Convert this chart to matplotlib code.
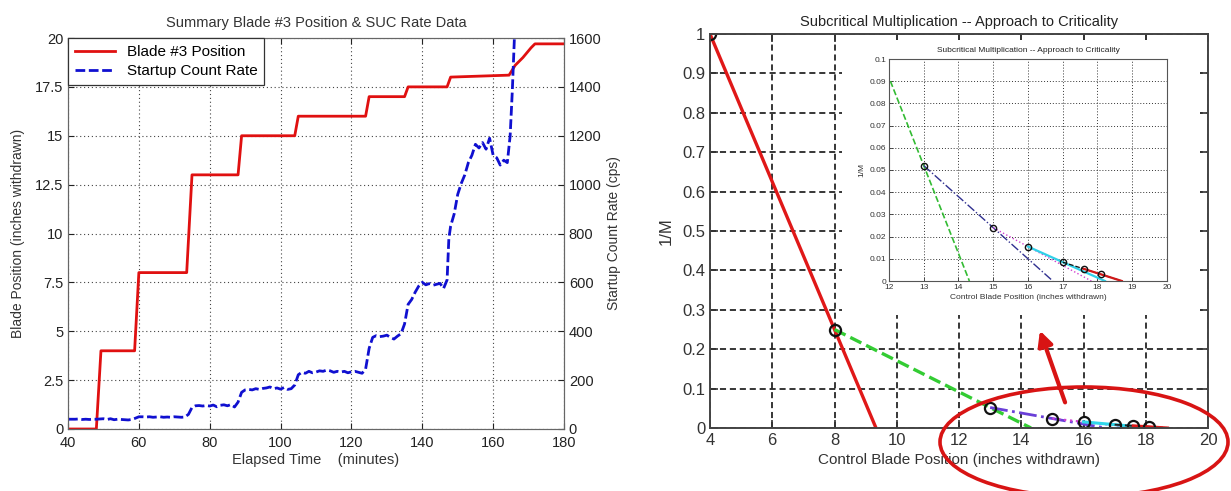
import numpy as np
import matplotlib
matplotlib.use("Agg")
import matplotlib.pyplot as plt
from matplotlib.patches import Rectangle, Ellipse, FancyArrowPatch

plt.rcParams['font.family'] = ['Liberation Sans', 'DejaVu Sans']

# --- blade #3 position vs elapsed time ---
blade_time = [40, 48, 49.3, 58.8, 60, 73.5, 75, 88, 89, 104, 105, 124, 125, 135, 136,
              147, 148, 164.5, 166.2, 168.4, 170.7, 171.8, 180]
blade_pos = [0, 0, 4, 4, 8, 8, 13, 13, 15, 15, 16, 16, 17, 17, 17.5,
             17.5, 18, 18.1, 18.6, 19.0, 19.5, 19.7, 19.7]

# --- startup count rate (cps) ---
suc_time = [40, 41, 42, 43, 44, 45, 46, 47, 48, 49, 50, 51, 52, 53, 54, 55, 56, 57, 58, 59,
            60, 61, 62, 63, 64, 65, 66, 67, 68, 69, 70, 71, 72, 73, 74, 75, 76, 77, 78, 79,
            80, 81, 82, 83, 84, 85, 86, 87, 88, 89, 90, 91, 92, 93, 94, 95, 96, 97, 98, 99,
            100, 101, 102, 103, 104, 105, 106, 107, 108, 109, 110, 111, 112, 113, 114, 115,
            116, 117, 118, 119, 120, 121, 122, 123, 124, 125, 126, 127, 128, 129, 130, 131,
            132, 133, 134, 135, 136, 137, 138, 139, 140, 141, 142, 143, 144, 145, 146, 147,
            147.5, 148, 149, 150, 151, 152, 153, 154, 155, 156, 157, 158, 159, 160, 161, 162,
            163, 164, 164.8, 165.4, 166, 166.5]
suc_rate = [40, 40, 40, 41, 39, 40, 39, 40, 40, 41, 42, 39, 42, 38, 40, 39, 38, 37, 39, 44,
            50, 50, 49, 50, 48, 49, 50, 48, 49, 48, 50, 49, 48, 49, 60, 88, 95, 96, 94, 96,
            94, 98, 91, 97, 99, 95, 100, 90, 110, 150, 160, 162, 160, 165, 162, 166, 168, 172, 165, 168,
            163, 170, 162, 165, 180, 222, 232, 228, 236, 230, 233, 238, 236, 241, 238, 232,
            236, 233, 236, 230, 234, 236, 232, 228, 245, 330, 375, 382, 378, 380, 384, 375,
            368, 380, 390, 430, 510, 530, 560, 585, 600, 590, 595, 588, 592, 596, 575, 610,
            780, 830, 880, 960, 1005, 1040, 1090, 1120, 1165, 1150, 1172, 1145, 1190, 1120, 1110, 1080,
            1100, 1090, 1200, 1380, 1600, 1700]

# --- 1/M approach to criticality ---
blade_in = [4, 8, 13, 15, 16, 17, 17.6, 18.1]
inv_m = [1.0, 0.25, 0.052, 0.024, 0.0155, 0.0085, 0.0055, 0.003]


def extrapolate(i):
    """Line through points i, i+1 of the 1/M data, out to where it hits zero."""
    x0, x1 = blade_in[i], blade_in[i + 1]
    y0, y1 = inv_m[i], inv_m[i + 1]
    x_zero = x1 - y1 * (x1 - x0) / (y1 - y0)
    return [x0, x1, x_zero], [y0, y1, 0.0]


W, H = 1231, 491
fig = plt.figure(figsize=(W / 100, H / 100), dpi=100)


def box(l, t, r, b):
    return [l / W, 1 - b / H, (r - l) / W, (b - t) / H]


# ================= left: blade position & SUC rate =================
ax = fig.add_axes(box(68, 38, 564, 429))
ax2 = ax.twinx()
spine_c = '#666666'
txt_c = '#222222'

l1, = ax.plot(blade_time, blade_pos, color='#e01010', lw=2.0)
l2, = ax2.plot(suc_time, suc_rate, color='#1010d0', lw=2.0, dashes=(3.5, 1.3))

ax.set_xlim(40, 180)
ax.set_ylim(0, 20)
ax2.set_ylim(0, 1600)
ax.set_xticks(np.arange(40, 181, 20))
ax.set_yticks(np.arange(0, 20.1, 2.5))
ax.set_yticklabels(['0', '2.5', '5', '7.5', '10', '12.5', '15', '17.5', '20'])
ax2.set_yticks(np.arange(0, 1601, 200))
ax.grid(True, color='#444444', ls=(0, (1, 2.5)), lw=0.8)
for a in (ax, ax2):
    a.tick_params(direction='in', length=4, labelsize=10.5, colors=txt_c, width=0.8)
    for s in a.spines.values():
        s.set_color(spine_c)
ax.tick_params(top=True)
ax.tick_params(axis='x', pad=5)
ax.set_title('Summary Blade #3 Position & SUC Rate Data', fontsize=10.5, color='#333333', pad=8)
ax.set_xlabel('Elapsed Time    (minutes)', fontsize=10.5, color='#333333', labelpad=2)
ax.set_ylabel('Blade Position (inches withdrawn)', fontsize=10, color='#333333', labelpad=7)
ax2.set_ylabel('Startup Count Rate (cps)', fontsize=10, color='#333333', labelpad=4)
leg = ax2.legend([l1, l2], ['Blade #3 Position', 'Startup Count Rate'], loc='upper left',
                 fontsize=11, fancybox=False, framealpha=1, borderaxespad=0,
                 handlelength=2.6, borderpad=0.45, labelspacing=0.35)
leg.get_frame().set_edgecolor('#333333')
leg.get_frame().set_linewidth(0.9)

# ================= right: 1/M approach to criticality =================
seg_styles = [
    dict(color='#e01818', lw=2.4, ls='-'),
    dict(color='#33cc33', lw=2.4, ls='--'),
    dict(color='#6a3fd8', lw=2.0, ls='-.'),
    dict(color='#d040d0', lw=1.6, ls=':'),
    dict(color='#30d8ec', lw=2.2, ls='-'),
    dict(color='#222222', lw=1.4, ls='--'),
    dict(color='#e01818', lw=2.2, ls='-'),
]

bx = fig.add_axes(box(710, 34, 1208, 428))
for i, st in enumerate(seg_styles):
    xs, ys = extrapolate(i)
    bx.plot(xs, ys, **st)
bx.plot(blade_in, inv_m, ls='none', marker='o', ms=8, mfc='none', mec='#111111', mew=1.6)
bx.set_xlim(4, 20)
bx.set_ylim(0, 1)
bx.set_xticks(np.arange(4, 21, 2))
bx.set_yticks(np.arange(0, 1.01, 0.1))
bx.set_yticklabels(['0', '0.1', '0.2', '0.3', '0.4', '0.5', '0.6', '0.7', '0.8', '0.9', '1'])
bx.grid(True, color='black', ls=(0, (4, 2.5)), lw=1.1)
bx.tick_params(direction='in', length=6, width=1.2, labelsize=12, colors='#333333',
               top=True, right=True)
for s in bx.spines.values():
    s.set_color('#444444')
    s.set_linewidth(1.4)
bx.set_title('Subcritical Multiplication -- Approach to Criticality', fontsize=10.5,
             color='#222222', pad=6)
bx.set_xlabel('Control Blade Position (inches withdrawn)', fontsize=11, color='#333333', labelpad=4)
bx.set_ylabel('1/M', fontsize=12, color='#333333', labelpad=6)

# white backing panel for the zoomed view
cover = Rectangle((842 / W, 1 - 315 / H), (1200 - 842) / W, (315 - 40) / H,
                  transform=fig.transFigure, facecolor='white', edgecolor='none', zorder=1)
fig.add_artist(cover)

# ================= zoomed view near criticality =================
cx = fig.add_axes(box(889, 59, 1167, 281))
cx.set_zorder(2)
in_styles = [
    dict(color='#e01818', lw=1.2, ls='-'),
    dict(color='#33bb33', lw=1.2, ls='--'),
    dict(color='#303090', lw=1.0, ls='-.'),
    dict(color='#d040d0', lw=1.0, ls=':'),
    dict(color='#30d0e8', lw=1.6, ls='-'),
    dict(color='#111111', lw=0.9, ls='--'),
    dict(color='#d01818', lw=1.6, ls='-'),
]
for i, st in enumerate(in_styles):
    xs, ys = extrapolate(i)
    cx.plot(xs, ys, **st)
cx.plot(blade_in, inv_m, ls='none', marker='o', ms=4.5, mfc='none', mec='#111111', mew=1.0)
cx.set_xlim(12, 20)
cx.set_ylim(0, 0.1)
cx.set_xticks(np.arange(12, 21, 1))
cx.set_yticks(np.arange(0, 0.101, 0.01))
cx.set_yticklabels(['0', '0.01', '0.02', '0.03', '0.04', '0.05', '0.06', '0.07', '0.08', '0.09', '0.1'])
cx.grid(True, color='#333333', ls=(0, (1, 2)), lw=0.7)
cx.tick_params(direction='in', length=3, width=0.6, labelsize=6, colors='#333333', pad=2)
for s in cx.spines.values():
    s.set_color('#555555')
    s.set_linewidth(0.8)
cx.set_title('Subcritical Multiplication -- Approach to Criticality', fontsize=6,
             color='#222222', pad=5)
cx.set_xlabel('Control Blade Position (inches withdrawn)', fontsize=6, color='#333333', labelpad=2)
cx.set_ylabel('1/M', fontsize=6, color='#333333', labelpad=3)

# red callout: ellipse round the tail points, arrow up to the zoomed view
red = '#d81414'
ring = Ellipse((1084 / W, 1 - 442 / H), 288 / W, 110 / H, transform=fig.transFigure,
               facecolor='none', edgecolor=red, lw=2.6, zorder=5)
fig.add_artist(ring)
arrow = FancyArrowPatch((1066 / W, 1 - 405 / H), (1039 / W, 1 - 328 / H),
                        transform=fig.transFigure, arrowstyle='-|>', mutation_scale=22,
                        color=red, lw=3, zorder=5)
fig.add_artist(arrow)

fig.savefig('out.png', dpi=100)
